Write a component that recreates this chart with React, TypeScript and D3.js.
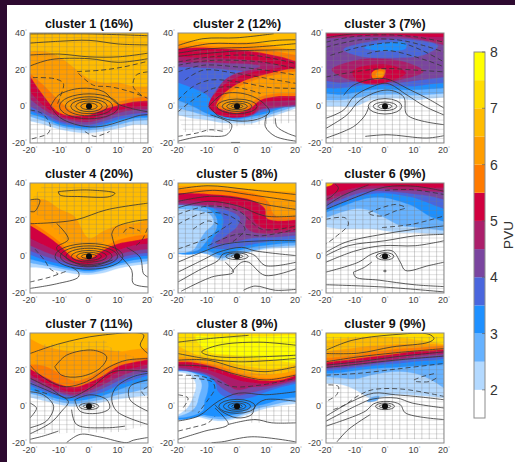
import React from "react";
import * as d3 from "d3";

type Band = { lv: number; kind: "A" | "U" | "P"; v: number[] };
type Line = [number, number[]];

const titles = ["cluster 1 (16%)","cluster 2 (12%)","cluster 3 (7%)","cluster 4 (20%)","cluster 5 (8%)","cluster 6 (9%)","cluster 7 (11%)","cluster 8 (9%)","cluster 9 (9%)"];
const thresholds = [2,2.5,3,3.5,4,4.5,5,5.5,6,6.5,7,7.5];
const bandColors = ["#ffffff","#b3d9ff","#66b2ff","#1e90ff","#4a66dd","#7a459f","#ab1f6b","#d0003f","#ff7a00","#ff9d00","#ffbc00","#ffdd00","#ffff00"];
const xTicks = [-20,-10,0,10,20];
const yTicks = [-20,0,20,40];
const cbTicks = [2,3,4,5,6,7,8];
const stationLons = [-20,-15,-10,-5,0,5,10,15,20];

const A = (lv:number, v:number[]):Band => ({lv,kind:"A",v});
const U = (lv:number, v:number[]):Band => ({lv,kind:"U",v});
const P = (lv:number, v:number[]):Band => ({lv,kind:"P",v});

const full = [-20,-20,20,-20,20,40,-20,40];

const bands1 = [
 A(2,[-8,-10,-12.5,-14,-14.5,-13.5,-12,-10,-10]),
 A(2.5,[-5.5,-8,-11,-12.5,-13,-12,-10,-8,-7.5]),
 A(3,[-4,-6.5,-10,-11.5,-12,-10.5,-8,-6.5,-6]),
 A(3.5,[-2.5,-5.5,-9,-10.5,-11,-9.5,-7,-5.5,-5]),
 A(4,[0,-4,-8,-9.5,-10,-8,-5.5,-4,-3.5]),
 A(4.5,[4,-2,-6,-8,-8.5,-6.5,-3.5,-2,-1.5]),
 A(5,[8,0,-5,-7,-7,-4.5,-2,-0.5,0]),
 A(5.5,[16.5,5,-3.5,-5,-4.7,-1.6,0.7,2.5,3]),
 A(6,[18,11,3,-3,-3.2,0,2.5,4.5,5.5]),
 A(6.5,[30,30,27,21,15,13,13,11,11]),
];
const lines1:Line[] = [
 [0,[-20,39.5,0,39.5,20,38.5]],
 [0,[-20,34.5,-10,35.5,0,36,10,34,20,33.5]],
 [0,[-20,28,-10,28.5,0,27,10,27,20,29]],
 [0,[-20,22,-13,25.5,0,26,10,24,20,26]],
 [1,[-4,19,4,19.7,11.7,21.5,20,24.6]],
 [1,[-19,15.7,-11.5,15,-8.7,12.5,-9.8,5,-10.7,1.3]],
 [1,[-3.6,18,1.5,11.5,7,10.7,14,8,20,4.3]],
 [1,[20,18.8,16,17,15,10.7,18.5,5.2]],
 [1,[-20,-2,-16,-3.8,-13.2,-10,-13.8,-14.6,-18.3,-17.3,-20,-18]],
 [1,[-1.4,-13.7,2,-16.4,7,-13.7]],
 [0,[-13,0,-10.4,6,-3,9.8,5,8,9,2,14,-1,20,-3]],
 [0,[-13,0,-10,-6,-3,-10.5,4,-11,12,-7.5,17,-5,20,-4.5]],
];
const rings1 = [[2.8,1.8],[4.5,2.9],[6.2,4],[8,5.2],[10,6.8]];
const hatch1 = [full];

const bands2 = [
 A(2,[-4.7,-6.5,-7.4,-9,-9.2,-9.2,-6.5,-3.8,-1]),
 A(2.5,[-1,-3,-5.5,-7,-8,-7,-5,-2.5,0]),
 A(3,[3.4,0,-4,-6,-7,-5.6,-3.8,-1,0.7]),
 A(3.5,[13,10,6,-4,-6.5,-4.5,-2.5,-0.3,1.2]),
 U(4,[-20,21.5,-10,21,-3,20,2,19,-3,15,-7,9,-9,3,-9.5,-1,-5,-5,0,-6,5,-5,8,-2,12,-1,20,0]),
 U(4.5,[-20,24,-10,24,-2,23.5,5,23,8,22,5,20,-1,17.5,-5,13,-7.5,6,-8.5,0,-5,-4.5,0,-5.5,5,-4.5,8,-1.5,12,-0.5,20,1]),
 U(5,[-20,27,-10,26.5,0,26,8,24.5,13,23,15,21.5,10,20,5,18.5,-1,15,-6,9.5,-9,3.5,-9.5,0,-6.5,-4.5,0,-6,5.5,-3.8,8.3,1.6,13.5,3,20,3.5]),
 P(5.5,[22,19.5,10,17.5,0,12,-5.5,5,-7,0,-4.5,-2,0,-3.5,4.5,-1,8,3.5,13.5,5.5,22,7]),
 P(6,[22,18,10,16,1,11,-4.5,4.5,-5.5,0.5,-3,-1,0,-2.5,3.5,0,7.5,5,13,7,22,8.5]),
 A(5.5,[31.5,32,32,31.5,31,30,28.7,27,24.5]),
 A(6,[33,33,33,32.5,32.5,32,31,29.5,28]),
 A(6.5,[36,35.5,35,35,35,35,34,32,31]),
];
const lines2:Line[] = [
 [0,[-20,33.2,-11.5,36.9,0,37.4,12.4,39.6]],
 [0,[-20,30.9,-9.2,34.2,3.3,34.2,13.5,36,20,36.3]],
 [0,[-20,29,-9.2,31.4,5.6,32.3,20,34.2]],
 [0,[-20,27.3,0,30.2,20,30.9]],
 [1,[-20,24.2,-9.2,26.9,5.6,27.8,20,23.3]],
 [1,[-20,22.4,-9.2,25,8,24.2,20,20.6]],
 [1,[-20,18.8,-11.5,22.4,0,21.5,13.5,18.8,20,17]],
 [1,[-17.7,14.3,-11.5,19.7,0,17.9,13.5,14.3,20,12.5]],
 [1,[-20,3.4,-15,10.7,-9.2,14.3,0,13.4,11,10.3,20,9.8]],
 [1,[-20,-3,-15,3.4,-8,9.8,0,10.3,8,7]],
 [0,[-9.5,0,-5,6.5,2,7,8,3,11,-3,7,-7,0,-8,-6,-5.5,-9.5,0]],
 [0,[10,-4.7,9.6,-11,13,-16.4,20,-19]],
 [0,[13,-6.5,13.5,-11,17,-14.6,20,-16.4]],
 [0,[-9,-4.7,-1.8,-10,-3.5,-15.5,-12.6,-16.4,-20,-19]],
 [1,[-20,-16.4,-13.7,-14.6,-9.2,-12.8,-4.7,-13.7]],
 [0,[-2,-19.7,1,-19.7]],
];
const rings2 = [[2,1],[3.5,1.8],[5,2.8],[6.8,4]];
const hatch2 = [[-15,31,20,31,20,-9,5,-10,-1,-11,-5,-14,-18,-14,-20,-5,-20,5,-13,8,-15,20]];

const bands3 = [
 A(2,[0,0,0,3.4,4.3,4.3,3.4,4.3,5]),
 A(2.5,[3.5,3.5,4.5,6,6.5,6.5,6,6.5,7]),
 A(3,[7,6.5,7.5,9,9.5,9,9,9.5,10]),
 A(3.5,[10,10,11,12,11.5,11,11,12,13]),
 A(4,[14,13,13.5,13.5,13,13,14,15,16]),
 P(4.5,[-18,20,-10,25,-2,26,7,24,13,19,5,14.5,-3,13,-12,14.5]),
 A(4.5,[37,37.5,38,38,38,38,37,35.5,33.5]),
 A(5,[38.5,38.5,39,39,39,39,38.5,38,38]),
 P(3.5,[-14,31,-4,35.5,7,36.5,18,33,13,28,1,26.5,-9,27.5]),
 P(3,[-7,32,0,34.5,7,34.5,7,31.5,-2,30.5]),
 P(5,[-11,19,-5,22.5,3,22,7,18,3,14.5,-3,12,-9,13.5]),
 P(5.5,[-4.5,18,-3,20,0,20,0,18,-1,15.5,-4,15]),
 P(6,[-3,18,-2,19,-0.5,18.5,-1,16.5,-3,16.5]),
];
const lines3:Line[] = [
 [0,[-20,37.4,-10.6,39.6,-2.7,39.9]],
 [1,[-20,35,-11.8,37.8,-0.5,39,10.8,37.8,20,35]],
 [1,[-20,32.3,-8.4,36.3,4,36.3,13,33.2,20,29.6]],
 [1,[-18.5,27.8,-6,33.2,6.3,34.2,20,24.2]],
 [1,[-6,28.7,0.7,30.5,14.2,25,20,21.5]],
 [1,[-20,16,-10.6,18.8,0,20.6,10.8,19.7,20,18.8]],
 [0,[-14,6,-10.6,11.6,-0.5,15.2,8.6,8.9,15.4,3.4,20,-1]],
 [0,[-20,-6.5,-14,-2,-10.6,5.2,-5,10.3,0.7,12.5,7.5,6.1,13.7,-0.2,20,-4.7]],
 [0,[-20,-12,-12.9,-4.7,-8.4,3.4,0.7,8.9,6.3,5.2,7.5,-4.7,20,-10]],
 [0,[-20,-17.3,-10.6,-11,-6.7,-4.7,-5.5,-0.2]],
 [0,[-6.7,-16.4,0.7,-15.5,14.2,-17.3,20,-16]],
];
const rings3 = [[2.3,1.3],[4,2.3],[5.7,4.2]];
const hatch3 = [[-20,-20,20,-20,20,36,-20,36]];

const bands4 = [
 A(2,[-6,-6.5,-8,-9.5,-10,-9,-6.5,-5,-4]),
 A(2.5,[-3.5,-5,-6.5,-8,-9,-7.5,-5,-3.5,-2.5]),
 A(3,[-1.5,-3.5,-5.5,-7,-8,-6.5,-4,-2,-1]),
 A(3.5,[1,-2,-4,-6,-7,-5.5,-2.5,-0.5,0.5]),
 A(4,[3,0,-2.5,-5,-6,-4,-1,1,2]),
 A(4.5,[6,2.5,-0.5,-4,-5,-2.5,1,3,4]),
 A(5,[10,6,2,-3,-4,-0.5,3.5,6,7]),
 A(5.5,[17,12,6,-1,-1.5,3.5,7,8.5,10]),
 A(6,[19,14,8,1,0,5,9,11,12]),
 A(6.5,[31,31,26,22,10,14,17,18,20]),
];
const lines4:Line[] = [
 [0,[-10.4,35.3,-0.8,36.2,8.8,34.4,7,32.6,-3,32.6,-9.9,33.5,-10.4,35.3]],
 [0,[-20,17.8,-13.2,18.3,-4.2,20,6,25.4,20,29]],
 [0,[-20,30.8,-16.7,30.8,-18.4,24.5,-20,24.5]],
 [0,[-11,18,-7,9.3,-11,4.8,-8.7,0.4,-3,-4.6,2,-5,8,-2]],
 [0,[7.7,12,8.8,15.6,15,19,20,20]],
 [0,[7.7,12,9.4,3,14.5,-7.7,15,-14.8,20,-16.7]],
 [0,[-20,-17.5,-11,-15,-3.6,-11.3,-3.6,-8.6,-5.9,-6]],
 [1,[-20,-14,-13.2,-11.3,-7,-7.7]],
 [1,[-18.3,3.9,-15,-2.3,-13.2,-6.8,-10.4,-9.5]],
 [1,[11.7,12.9,13.4,15.6,17.3,13.8]],
 [1,[16,6,18,9,20,16]],
 [0,[12.8,4.8,17.3,-0.5,18.5,-9.5,20,-11.3]],
];
const rings4 = [[2.6,1.2],[4.2,2.2],[6,3.2],[7.8,4.4],[9.7,5.7],[11.5,7]];
const hatch4 = [[-15,40,20,40,20,13,10,11,5,8,0,3,-5,3,-10,12,-15,20,-20,25,-20,30]];

const bands5 = [
 A(2,[3,2.5,1.3,-2.3,0.7,2.5,4,4.5,5]),
 A(2.5,[3,2.5,1.3,-1,1.5,3,4.8,5.5,6]),
 A(3,[4,4,3,0.5,3,5,6,7,7.5]),
 A(3.5,[5,6,5,4,5,6.5,8,9,9.5]),
 P(3,[-22,29,-10,27.5,-5,22,-5,16,-8,10,-9.5,5,-11,2.5,-22,3]),
 P(2.5,[-22,27,-10,26,-7,21,-7,15,-10,9,-12,5,-14,3,-22,3]),
 P(2,[-22,24,-14,25,-9,22.5,-8,18,-11,13,-13,8,-15,3.5,-22,3]),
 U(4,[-20,28,-10,27,-3,25,1,21,0,16,-3,12,-7,7,-2,7.5,5,10,13,10.5,20,11.5]),
 U(4.5,[-20,29,-10,28,-1,26,3,22,3,16,6,13,13,12.5,20,13.5]),
 U(5,[-20,31,-10,30,0,28,5,24,6,19,9,15.5,14,14.5,20,15]),
 U(5.5,[-20,34.5,-10,34,0,32.5,6,30,9.5,26,10,21,13,19.5,20,20]),
 U(6,[-20,36.5,-8,36.5,2,35.5,8,33,11,29,12,24,14,21.5,20,22]),
 U(6.5,[-20,38.5,-5,38,10,36,20,35]),
];
const lines5:Line[] = [
 [0,[-20,36.7,-9.8,38.5,3.9,36.4,20,33.7]],
 [0,[-20,33.7,-7.5,36,3.9,33.7,20,30]],
 [0,[-20,30,-8.6,32.8,2.7,31,9.5,28.3,20,25.6]],
 [0,[-20,26.5,-9.8,30,0.5,27.4,9.5,22,20,22]],
 [1,[-20,22.9,-9.8,27.4,0.5,24.7,8.4,14.8,20,16.6]],
 [1,[-20,17.5,-10.9,23.8,-2.4,22,2.7,14.8,-1.8,7.6]],
 [1,[-14.9,14.8,-9.8,19.3,-6.4,17.5]],
 [1,[-20,4,-10.9,9.4,-5.2,14.8,-1.8,18.4]],
 [1,[-9.8,5.8,0,12,8.4,11.2,20,14.8]],
 [0,[-20,-3.2,-12,2.2,-4,6.7,9.5,8.5,20,8.5]],
 [0,[-20,-8.6,-10.9,-1.4,-6.4,2.2,1.6,4.9,6.1,3,20,0.4]],
 [0,[-20,-14,-12,-6.8,-6.4,-2.3,-4.7,1.3,2.7,2.2,6.1,0.4,9.5,-5,20,-3.2]],
 [0,[-18.9,-19,-8.6,-11.3,-1.2,-8.6,-4,-3.2]],
 [0,[-1.8,-8.6,1.6,-3.2,3.9,-3.2,9.5,-10.4,20,-6.8]],
 [0,[2.2,-18.5,6.1,-16.2,13,-18.5,20,-18]],
];
const rings5 = [[2,0.9],[3.8,1.8]];
const hatch5 = [[-20,-20,20,-20,20,30,-5,30,-20,26]];

const bands6 = [
 A(2,[16,15,15,15,14,13,13,12.5,12]),
 A(2.5,[21,24,26,25,21,17,16,15,14]),
 A(3,[24,27,30,32,32,30,27,22,19]),
 A(3.5,[26,29,32,34,34.5,33.5,32,29,26]),
 A(4,[28,31,34,35.5,35.5,35,34,33,31]),
 A(4.5,[30,33,36,37,37,36,36,35.5,35]),
 A(5,[33,35.5,37.5,38.5,38.5,38,38,37.5,37.5]),
 P(6.5,[-22,42,-17.5,42,-18,39,-22,38.5]),
];
const lines6:Line[] = [
 [0,[-17,39.6,-15.8,37.3,-18,32.8,-20,31]],
 [0,[-20,27.4,-14.7,32.8,-5.6,39]],
 [0,[-20,25.6,-9,32.8,0,37.8,10.3,38.2,20,35.5]],
 [1,[0,36,9,36.4,20,33.7]],
 [1,[-20,20.2,-13.5,21,-12.4,17.5,-17,10.3,-20,6.7]],
 [1,[-5.6,23.8,3.5,28.3,6.9,26.5,3.5,24.7,-1,22,-5,22.9,-5.6,23.8]],
 [1,[-1,15.7,9.2,17.5,20,22]],
 [0,[-20,2.2,-13.5,7.6,-1,12,10.3,14.8,20,16.6]],
 [0,[-20,0.4,-12.4,5.8,0,8.5,10.3,11.2,20,12]],
 [0,[-20,-3.2,-10,3,-1,5.8,10.3,5.8,20,8.5]],
 [0,[-20,-8.6,-9,-3.2,-4.4,1.3,2.4,3,5.2,-3.2,6.9,-7.7,14.9,-5,20,-3.2]],
 [0,[-10.7,-8.6,-10,-11.3,-2,-13,10,-15.5,20,-16.5]],
 [0,[-10.7,-8.6,-7,-6,-4.4,-3]],
 [0,[-20,-15.5,-1,-16.7,20,-19.4]],
 [0,[-0.5,-8,0,-7.5,0.5,-8,0,-8.5,-0.5,-8]],
];
const rings6 = [[1.8,1],[3,2]];
const hatch6 = [[-20,-20,20,-20,20,34,-20,34]];

const bands7 = [
 A(2,[5,3,1,0,1,2.5,4,5,6]),
 A(2.5,[7,5,2.5,1.5,2.5,4,6.5,8,10]),
 A(3,[9,6.5,4,3,4,6,9,12,14]),
 A(3.5,[11.5,8,5.5,4.5,5.5,8,11.5,14.5,17]),
 A(4,[13.5,9.5,7,5.5,7,10,14,17,19]),
 A(4.5,[15.5,11,8,6.5,8.5,12,16,19,21]),
 A(5,[17.5,13,9.5,8,10,14,19,21,23]),
 A(5.5,[20.5,16,12,10.5,13,17,22,24,25.5]),
 A(6,[23,22,18,14,16,20.5,24,25.5,27]),
 A(6.5,[37,33,31,30,31,31,30,31,32]),
];
const lines7:Line[] = [
 [0,[-20,28.8,-9.9,34.2,3.7,38.7,18.5,39,17.4,33.3,20,28.8]],
 [0,[-11.6,21.6,-7.6,27.9,1.5,30.6,6,27,3.7,20.7,-3,16.2,-9.3,17,-11.6,21.6]],
 [0,[-20,22.5,-16.6,17,-8.7,10.8,-0.8,13.5,7,21.6,12.8,25.2,20,26]],
 [0,[-20,15.3,-13.2,9.9,-7.6,4.5,0.3,9.9,8.3,18.9,20,18.9]],
 [0,[-20,12.6,-13.2,8,-7,2.7,-9.3,-2.7,-13,-9,-20,-15]],
 [0,[-20,8,-15.5,6.3,-12,0,-14.4,-8,-20,-11.7]],
 [1,[-18.4,9,-13.2,6.3]],
 [0,[-20,1.8,-17.8,-0.9,-19,-4.5,-20,-6.3]],
 [0,[20,18,15,16.2,9.4,10.8,7.7,4.5,9.4,-2.7,20,-9.9]],
 [0,[20,14.4,13.9,10.8,13.9,3.6,20,-2.7]],
 [1,[20,10.8,17.9,8,20,4.5]],
 [0,[-4.8,3.6,0.3,6.3,6,3.6,7,-0.9,3.7,-3.6,-3,-2.7,-4.8,3.6]],
 [0,[-5.9,-1.8,-4.2,-9.9,6,-11.7,12.2,-10.8]],
 [0,[-7.6,-19.8,-3,-15.3,3.7,-16.7,12.8,-19.8,15,-18.5,20,-17]],
 [0,[-20,-18,-15.5,-16.2,-10.4,-13.5]],
];
const rings7 = [[2,0.9],[3.3,1.8]];
const hatch7 = [[-18,28,-15,34,6,36,6,33,15,27,20,24,20,-10,10,-14,-20,-15,-20,5]];

const bands8 = [
 A(2,[-4,-5,-7,-8,-6.5,-3.5,-1,0.5,1.5]),
 A(2.5,[-3,-4,-6,-7,-5.5,-2,0,2,3]),
 A(3,[-2,-3,-5,-5.5,-4,-0.5,1.5,4,5]),
 A(3.5,[19,18,16,6,4,5,8,10.5,12.5]),
 P(3,[-22,18.5,-12,17.5,-8,15,-7,8,-9,3,-9,-2,-14,-6,-22,-6]),
 P(2.5,[-22,18,-13,17.5,-10,14,-10,8,-11,3,-11.5,-2,-15,-5,-22,-5]),
 P(2,[-22,17.8,-14,17.5,-12,12,-13,5,-14,0,-16,-3,-22,-5]),
 P(1.5,[-22,17.5,-16,17,-14,12,-15,5,-17,-1,-22,-5]),
 A(4,[20,19,17,10,6,7.5,9.5,11.5,13.5]),
 A(4.5,[21,20,18,14,9,10.5,11,12.5,14.5]),
 A(5,[22,21.5,20,17.5,14.5,13,12.5,13.5,15.5]),
 A(5.5,[24.3,24,22.5,20,17,15,14,14.5,17]),
 A(6,[25,25,23.5,21.5,18.5,16.5,15.5,16,18]),
 A(6.5,[27,26.5,25,23,20.5,18.5,17.5,18,20]),
 A(7,[33,29,27,25.5,23,21.5,20.5,21,23]),
 P(7.5,[-14,38,-8,38,8,38,22,37,22,25,10,26,-2,28,-10,30]),
];
const lines8:Line[] = [
 [0,[20,33.3,7.3,35,-6.4,33.3,-12,29.7,-11.4,28.8,-6.4,27,7.3,27,20,27.9]],
 [0,[-20,35,-9.8,36.9,3.9,38.7]],
 [0,[-20,28.8,-10.9,26.1,0.5,24.3,20,26.1]],
 [0,[-20,25.2,-9.8,25.2,0.5,20.7,9.5,18.9,20,21.6]],
 [0,[-20,22.5,-9.8,21.6,0.5,17.1,9.5,14.4,20,17.1]],
 [1,[-20,17,-13.2,16.6,-7.5,14.4,-1.8,10.8,8.4,11.7,20,15.3]],
 [1,[-15.5,15.3,-8.6,13.5,-7.5,9.9,-9.8,3.6,-13.2,-3.6]],
 [1,[-20,6.3,-16.6,4.5,-18.3,-0.9]],
 [0,[-20,-8,-13.2,-5.4,-6.4,2.7,0.5,7.2,9.5,6.3,20,8]],
 [0,[-7.5,0.9,-5.2,-2.7,0,-6.3,5,-4.5,6.1,0,9.5,3.6,20,2.7]],
 [1,[-20,-13.5,-15.5,-11.7,-9.8,-9,-7.5,-5.4]],
 [0,[-20,-18,-10.9,-13.5,-3,-9.9,-4.7,-5.4,-7.5,-0.9]],
 [0,[-3,-9.9,6.1,-7.2,11.8,-9,20,-9]],
 [0,[-8.6,-19.8,-5.2,-19.4,5,-16.6,20,-19.4]],
];
const rings8 = [[1.8,1],[3,1.8],[4.6,2.7],[6.2,3.8]];
const hatch8 = [[-20,40,20,40,20,19,5,16,-5,18,-20,23],[-20,17,-14,17,-14,-3,-20,-3],[3,0,20,0,20,-9,3,-9]];

const bands9 = [
 A(2,[12.5,12,9,4.5,5.5,6.5,6,5.5,4.5]),
 A(2.5,[16,15.5,15,17,18.5,19,18,15,10]),
 P(2.5,[-6,2.5,-5,4.5,-2,5.5,-2.5,3.5]),
 A(3,[18,18.5,19.5,20.5,21,21.5,22,22.5,23]),
 A(3.5,[19.5,20,21,22,23,23.5,24.5,25,26]),
 A(4,[20.5,21,22,23,24,25,26,26.5,27]),
 A(4.5,[21.5,22,23,24,25,26,27,28,28.5]),
 A(5,[22.5,23.5,24.5,25.5,26.5,27.5,28.5,29,30]),
 A(5.5,[24,25,26,27,28,29,30,30.5,31]),
 A(6,[26.5,27,28,29.5,30.5,31.5,32,32.5,33]),
 A(6.5,[30,31,32,33,33.5,34,34,34,33.5]),
 A(7,[36,37,37.5,38,38,37.5,36.5,35.5,34]),
];
const lines9:Line[] = [
 [0,[-20,30.6,-11.2,36,2.4,39,14.9,39.3,16.6,37,14.9,35,2.4,32.4,-9,29,-20,28.8]],
 [0,[-20,24.3,-9,27,3.5,29.2,20,31.5]],
 [0,[-20,22.5,-9,24.3,3.5,27,20,29.7]],
 [0,[-20,21.2,-9,23,3.5,25.2,20,27.4]],
 [1,[-20,17,-9,18,5.8,20.7,20,23.4]],
 [1,[9.8,14.4,12.6,16.2,17.2,18]],
 [1,[10.5,13.5,15,13.5,18,16]],
 [1,[-19.2,11.7,-15.8,10.8,-16.4,6.3,-20,2.7]],
 [1,[-17.5,-1.8,-13.5,0.9,-9.5,5.4,-4.4,9,5.8,9.4,20,5.4]],
 [0,[-20,-5.4,-11.2,2.7,-3.8,7.2,3.5,6.3,10.3,5.4,20,3.6]],
 [0,[-20,-8.1,-9,0.9,-4.4,3.9,4,4.5,9.2,1.8,20,-0.9]],
 [0,[-20,-10.8,-6.7,-2.7,-3.8,1.4,0.7,2.7,5.2,0.9,6.9,-3.6,20,-7.2]],
 [0,[-16.3,-19.4,-12.4,-12.6,-5,-4.5]],
];
const rings9 = [[2,0.9],[3.2,1.8]];
const hatch9 = [[-20,-18,20,-18,20,38,-20,38]];

const allBands = [bands1,bands2,bands3,bands4,bands5,bands6,bands7,bands8,bands9];
const allLines = [lines1,lines2,lines3,lines4,lines5,lines6,lines7,lines8,lines9];
const allRings = [rings1,rings2,rings3,rings4,rings5,rings6,rings7,rings8,rings9];
const allHatch = [hatch1,hatch2,hatch3,hatch4,hatch5,hatch6,hatch7,hatch8,hatch9];

const FONT = "'Liberation Sans', Arial, sans-serif";
const colLeft = [30,178,326], rowTop = [33,183,333], PW = 118, PH = 110;
const color = d3.scaleThreshold<number,string>().domain(thresholds).range(bandColors);
const pairs = (f:number[]) => d3.range(0,f.length,2).map(i => [f[i],f[i+1]] as [number,number]);

function Panel({i}:{i:number}) {
  const cx = colLeft[i%3], cy = rowTop[Math.floor(i/3)];
  const x = d3.scaleLinear().domain([-20,20]).range([cx,cx+PW]);
  const y = d3.scaleLinear().domain([-20,40]).range([cy+PH,cy]);
  const open = d3.line<[number,number]>().x(d=>x(d[0])).y(d=>y(d[1])).curve(d3.curveCatmullRom.alpha(0.5));
  const closed = d3.line<[number,number]>().x(d=>x(d[0])).y(d=>y(d[1])).curve(d3.curveCatmullRomClosed.alpha(0.5));
  const straight = d3.line<[number,number]>().x(d=>x(d[0])).y(d=>y(d[1]));
  const bandPath = (b:Band) => {
    if (b.kind==="P") return closed(pairs(b.v)) as string;
    const pts = b.kind==="A" ? stationLons.map((l,k)=>[l,b.v[k]] as [number,number]) : pairs(b.v);
    return `${open(pts)}L${x(pts[pts.length-1][0])},${y(41)}L${x(pts[0][0])},${y(41)}Z`;
  };
  const clip = `clip${i}`, hclip = `hclip${i}`;
  const gridLon = d3.range(-20,20.01,2.5), gridLat = d3.range(-20,40.01,2.5);
  return (
    <g>
      <defs>
        <clipPath id={clip}><rect x={cx} y={cy} width={PW} height={PH}/></clipPath>
        <clipPath id={hclip}>{allHatch[i].map((h,k)=><path key={k} d={straight(pairs(h))+"Z"}/>)}</clipPath>
      </defs>
      <g filter="url(#soft)">
        <g clipPath={`url(#${clip})`}>
          <rect x={cx} y={cy} width={PW} height={PH} fill="#fff"/>
          {allBands[i].map((b,k)=><path key={k} d={bandPath(b)} fill={color(b.lv)} stroke={color(b.lv)} strokeWidth={0.3}/>)}
          <g clipPath={`url(#${hclip})`} stroke="#7d7d7d" strokeWidth={1}>
            {gridLon.map(l=><line key={"v"+l} strokeOpacity={0.34} x1={x(l)} x2={x(l)} y1={cy} y2={cy+PH}/>)}
            {gridLat.map(l=><line key={"h"+l} strokeOpacity={0.24} x1={cx} x2={cx+PW} y1={y(l)} y2={y(l)}/>)}
          </g>
          {allLines[i].map(([dash,f],k)=><path key={k} d={open(pairs(f)) as string} fill="none" stroke="#333" strokeWidth={0.8} strokeDasharray={dash?"5 3":undefined}/>)}
          {allRings[i].map((r,k)=><ellipse key={k} cx={x(0)} cy={y(0)} rx={x(r[0])-x(0)} ry={y(0)-y(r[1])} fill="none" stroke="#333" strokeWidth={0.8}/>)}
          <circle cx={x(0)} cy={y(0)} r={3} fill="#0a0a0a"/>
        </g>
        <rect x={cx} y={cy} width={PW} height={PH} fill="none" stroke="#8a8a8a" strokeWidth={1}/>
      </g>
      <text x={cx+PW/2} y={cy-5} textAnchor="middle" fontFamily={FONT} fontWeight="bold" fontSize={12.5} fill="#111">{titles[i]}</text>
      {xTicks.map(t=><text key={t} x={x(t)} y={cy+PH+10} textAnchor="middle" fontFamily={FONT} fontSize={9} fill="#444">{t}<tspan fontSize={5} dy={-3} fill="#aaa">°</tspan></text>)}
      {yTicks.map(t=><text key={t} x={cx-3} y={y(t)+3} textAnchor="end" fontFamily={FONT} fontSize={9} fill="#444">{t}<tspan fontSize={5} dy={-3} fill="#aaa">°</tspan></text>)}
    </g>
  );
}

function Colorbar() {
  const y = d3.scaleLinear().domain([1.5,8]).range([418,52]);
  const edges = [1.5,...thresholds,8];
  return (
    <g fontFamily={FONT}>
      {d3.pairs(edges).map(([a,b])=><rect key={a} x={474} width={11} y={y(b)} height={y(a)-y(b)} fill={color(a)}/>)}
      <rect x={474} y={52} width={11} height={366} fill="none" stroke="#8c8c8c" strokeWidth={1}/>
      {cbTicks.map(t=><g key={t}>
        <line x1={482} x2={485} y1={y(t)} y2={y(t)} stroke="#555" strokeWidth={0.6}/>
        <text x={490} y={y(t)+5} fontSize={14} fill="#333">{t}</text>
      </g>)}
      <text transform="translate(513,235) rotate(-90)" textAnchor="middle" fontSize={13.5} fill="#333">PVU</text>
    </g>
  );
}

export default function App() {
  return (
    <svg width={515} height={462} style={{position:"fixed",left:0,top:0,display:"block",background:"#fff"}}>
      <defs><filter id="soft" x="-5%" y="-5%" width="110%" height="110%"><feGaussianBlur stdDeviation="0.55"/></filter></defs>
      <rect x={0} y={0} width={515} height={462} fill="#fff"/>
      <rect x={0} y={0} width={515} height={5} fill="#2e0a30"/>
      <rect x={0} y={0} width={7} height={462} fill="#2e0a30"/>
      {titles.map((_,i)=><Panel key={i} i={i}/>)}
      <Colorbar/>
    </svg>
  );
}
